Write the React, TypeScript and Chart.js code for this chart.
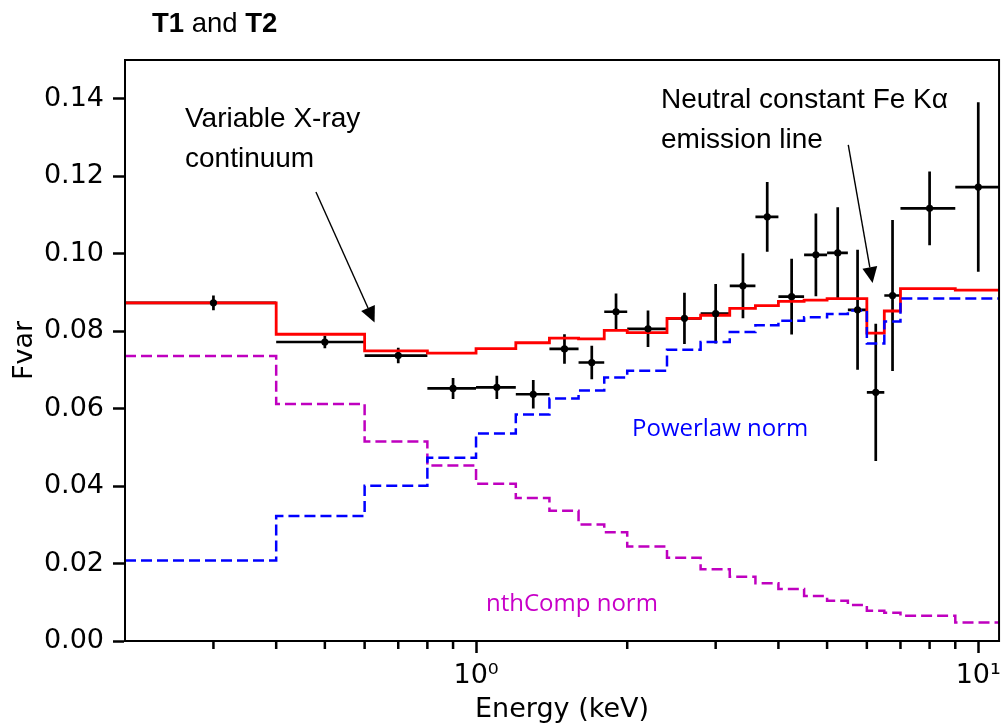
import React, { useEffect, useRef } from "react";
import { Chart, registerables } from "chart.js";

Chart.register(...registerables);

// Energy bin edges (keV)
const binEdges = [0.2, 0.4, 0.6, 0.8, 1.0, 1.2, 1.4, 1.6, 1.8, 2.0, 2.4, 2.8, 3.2, 3.6, 4.0, 4.5, 5.0, 5.5, 6.0, 6.5, 7.0, 9.0, 11.0];

// Model curves (one value per bin)
const totalModel = [0.0873, 0.0792, 0.0749, 0.0743, 0.0755, 0.0770, 0.0782, 0.0780, 0.0802, 0.0796, 0.0833, 0.0841, 0.0859, 0.0866, 0.0877, 0.0880, 0.0884, 0.0884, 0.0795, 0.0852, 0.0910, 0.0906];
const powerlawNorm = [0.0208, 0.0323, 0.0401, 0.0473, 0.0536, 0.0585, 0.0626, 0.0647, 0.0680, 0.0698, 0.0752, 0.0772, 0.0798, 0.0815, 0.0827, 0.0836, 0.0844, 0.0853, 0.0768, 0.0825, 0.0884, 0.0884];
const nthcompNorm = [0.0736, 0.0612, 0.0515, 0.0453, 0.0406, 0.0369, 0.0336, 0.0301, 0.0281, 0.0244, 0.0215, 0.0185, 0.0166, 0.0149, 0.0134, 0.0116, 0.0104, 0.0093, 0.0078, 0.0073, 0.0065, 0.0048];

// Observed Fvar points
const dataEnergy = [0.3, 0.5, 0.7, 0.9, 1.1, 1.3, 1.5, 1.7, 1.9, 2.2, 2.6, 3.0, 3.4, 3.8, 4.25, 4.75, 5.25, 5.75, 6.25, 6.75, 8.0, 10.0];
const dataFvar = [0.0873, 0.0772, 0.0737, 0.0652, 0.0655, 0.0637, 0.0754, 0.0719, 0.0850, 0.0806, 0.0833, 0.0845, 0.0917, 0.1095, 0.0889, 0.0997, 0.1002, 0.0855, 0.0642, 0.0892, 0.1117, 0.1172];
const dataErr = [0.0019, 0.0016, 0.0020, 0.0027, 0.0030, 0.0037, 0.0038, 0.0043, 0.0047, 0.0047, 0.0066, 0.0077, 0.0084, 0.0090, 0.0098, 0.0107, 0.0118, 0.0155, 0.0177, 0.0195, 0.0095, 0.0219];

// Ticks
const yTickValues = [0, 0.02, 0.04, 0.06, 0.08, 0.1, 0.12, 0.14];
const xMajorTicks = [1, 10];
const xTickLabels = ["10⁰", "10¹"];
const xMinorTicks = [0.3, 0.4, 0.5, 0.6, 0.7, 0.8, 0.9, 2, 3, 4, 5, 6, 7, 8, 9];

// Annotation arrows in data coordinates [energy, fvar]
const arrowContinuum = [[0.48, 0.1159], [0.628, 0.0822]];
const arrowFeLine = [[5.51, 0.1281], [6.16, 0.0924]];

function stepPoints(vals: number[]) {
  const pts: { x: number; y: number }[] = [];
  vals.forEach((v, i) => {
    pts.push({ x: binEdges[i], y: v });
    pts.push({ x: binEdges[i + 1], y: v });
  });
  return pts;
}

function errorBarPoints() {
  const pts: { x: number; y: number | null }[] = [];
  dataEnergy.forEach((e, i) => {
    const y = dataFvar[i];
    pts.push({ x: binEdges[i], y }, { x: binEdges[i + 1], y }, { x: e, y: null });
    pts.push({ x: e, y: y - dataErr[i] }, { x: e, y: y + dataErr[i] }, { x: e, y: null });
  });
  return pts;
}

const decorPlugin = {
  id: "decor",
  afterDraw(chart: any) {
    const ctx = chart.ctx;
    const { left, right, top, bottom } = chart.chartArea;
    const xs = chart.scales.x;
    const ys = chart.scales.y;
    ctx.save();
    // frame
    ctx.strokeStyle = "#000";
    ctx.lineWidth = 2;
    ctx.strokeRect(left, top, right - left, bottom - top);
    // minor ticks
    ctx.lineWidth = 2.5;
    ctx.beginPath();
    xMinorTicks.forEach((v) => {
      const px = xs.getPixelForValue(v);
      ctx.moveTo(px, bottom);
      ctx.lineTo(px, bottom + 8);
    });
    ctx.stroke();

    // arrows
    const drawArrow = (a: number[][]) => {
      const x1 = xs.getPixelForValue(a[0][0]);
      const y1 = ys.getPixelForValue(a[0][1]);
      const x2 = xs.getPixelForValue(a[1][0]);
      const y2 = ys.getPixelForValue(a[1][1]);
      const ang = Math.atan2(y2 - y1, x2 - x1);
      const hl = 16;
      const hw = 7.5;
      const bx = x2 - hl * Math.cos(ang);
      const by = y2 - hl * Math.sin(ang);
      ctx.strokeStyle = "#000";
      ctx.lineWidth = 1.4;
      ctx.beginPath();
      ctx.moveTo(x1, y1);
      ctx.lineTo(bx, by);
      ctx.stroke();
      ctx.fillStyle = "#000";
      ctx.beginPath();
      ctx.moveTo(x2, y2);
      ctx.lineTo(bx + hw * Math.sin(ang), by - hw * Math.cos(ang));
      ctx.lineTo(bx - hw * Math.sin(ang), by + hw * Math.cos(ang));
      ctx.closePath();
      ctx.fill();
    };
    drawArrow(arrowContinuum);
    drawArrow(arrowFeLine);

    // annotation text
    ctx.fillStyle = "#000";
    ctx.textBaseline = "alphabetic";
    ctx.textAlign = "left";
    ctx.font = "28px 'Liberation Sans', Arial, sans-serif";
    ctx.fillText("Variable X-ray", 185, 127);
    ctx.fillText("continuum", 185, 167);
    ctx.fillText("Neutral constant Fe Kα", 661, 108);
    ctx.fillText("emission line", 661, 148);

    ctx.font = "24px 'Open Sans', sans-serif";
    ctx.fillStyle = "#0000ff";
    ctx.fillText("Powerlaw norm", 632, 436);
    ctx.fillStyle = "#c800c8";
    ctx.fillText("nthComp norm", 486, 611);

    // title with mixed weights
    ctx.fillStyle = "#000";
    let tx = 152;
    const ty = 32;
    const parts: [string, boolean][] = [["T1", true], [" and ", false], ["T2", true]];
    parts.forEach(([t, b]) => {
      ctx.font = (b ? "bold " : "") + "27.5px 'Liberation Sans', Arial, sans-serif";
      ctx.fillText(t, tx, ty);
      tx += ctx.measureText(t).width;
    });
    ctx.restore();
  },
};

export default function App() {
  const ref = useRef<HTMLCanvasElement | null>(null);
  useEffect(() => {
    if (!ref.current) return;
    const tickFont = { family: "'DejaVu Sans', sans-serif", size: 27 };
    const titleFont = { family: "'DejaVu Sans', sans-serif", size: 27 };
    const chart = new Chart(ref.current, {
      type: "line",
      data: {
        datasets: [
          {
            label: "data",
            data: dataEnergy.map((e, i) => ({ x: e, y: dataFvar[i] })),
            showLine: false,
            pointRadius: 3.6,
            pointBackgroundColor: "#000",
            pointBorderWidth: 0,
            order: 0,
          },
          {
            label: "Powerlaw norm",
            data: stepPoints(powerlawNorm),
            borderColor: "#0000ff",
            borderWidth: 2.5,
            borderDash: [11, 5],
            pointRadius: 0,
            order: 1,
          },
          {
            label: "nthComp norm",
            data: stepPoints(nthcompNorm),
            borderColor: "#bf00bf",
            borderWidth: 2.5,
            borderDash: [11, 5],
            pointRadius: 0,
            order: 2,
          },
          {
            label: "total",
            data: stepPoints(totalModel),
            borderColor: "#ff0000",
            borderWidth: 2.8,
            pointRadius: 0,
            order: 3,
          },
          {
            label: "errors",
            data: errorBarPoints(),
            borderColor: "#000",
            borderWidth: 2.7,
            pointRadius: 0,
            spanGaps: false,
            order: 4,
          },
        ],
      } as any,
      options: {
        animation: false,
        responsive: false,
        layout: { padding: { left: 0, top: 60, right: 6, bottom: 0 } },
        elements: { line: { tension: 0, borderCapStyle: "butt", borderJoinStyle: "miter" } },
        plugins: { legend: { display: false }, tooltip: { enabled: false } },
        scales: {
          x: {
            type: "logarithmic",
            min: 0.2,
            max: 11,
            afterBuildTicks: (s: any) => {
              s.ticks = xMajorTicks.map((v) => ({ value: v, major: true }));
            },
            afterFit: (s: any) => {
              s.height = 86;
            },
            ticks: {
              callback: (_v: any, i: number) => xTickLabels[i],
              font: tickFont,
              color: "#000",
              padding: 7,
              maxRotation: 0,
              autoSkip: false,
            },
            grid: { drawOnChartArea: false, tickLength: 12, tickWidth: 2.5, tickColor: "#000" },
            border: { color: "#000", width: 2 },
            title: {
              display: true,
              text: "Energy (keV)",
              font: titleFont,
              color: "#000",
              padding: { top: 0, bottom: 1 },
            },
          },
          y: {
            min: 0,
            max: 0.15,
            afterBuildTicks: (s: any) => {
              s.ticks = yTickValues.map((v) => ({ value: v }));
            },
            afterFit: (s: any) => {
              s.width = 125;
            },
            ticks: {
              callback: (v: any) => Number(v).toFixed(2),
              font: tickFont,
              color: "#000",
              padding: 9,
            },
            grid: { drawOnChartArea: false, tickLength: 12, tickWidth: 2.5, tickColor: "#000" },
            border: { color: "#000", width: 2 },
            title: {
              display: true,
              text: "Fvar",
              font: titleFont,
              color: "#000",
              padding: { top: 9, bottom: 0 },
            },
          },
        },
      } as any,
      plugins: [decorPlugin],
    });
    return () => chart.destroy();
  }, []);

  return (
    <div style={{ position: "absolute", left: 0, top: 0, width: 1008, height: 727, background: "#fff" }}>
      <canvas ref={ref} width={1008} height={727} style={{ display: "block" }} />
    </div>
  );
}
